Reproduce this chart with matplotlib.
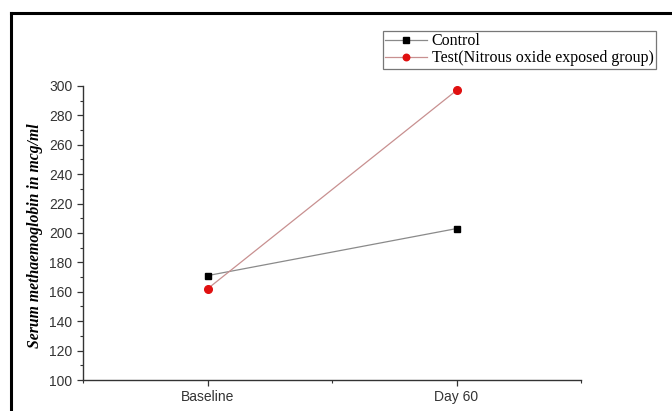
import matplotlib
matplotlib.use("Agg")
import matplotlib.pyplot as plt
from matplotlib.lines import Line2D
from matplotlib.ticker import MultipleLocator, FixedLocator

categories = ["Baseline", "Day 60"]
control = [171, 203]
test = [162, 297]
series_names = ["Control", "Test(Nitrous oxide exposed group)"]

fig = plt.figure(figsize=(6.72, 4.11), dpi=100)
ax = fig.add_axes([83/672, 1-380/411, (581-83)/672, (380-86)/411])

x = [1, 2]
ax.plot(x, control, color="#8a8a8a", lw=0.9, marker="s", ms=5,
        mfc="black", mec="black", label=series_names[0], zorder=3)
ax.plot(x, test, color="#c89090", lw=0.9, marker="o", ms=5.5,
        mfc="#e01010", mec="#e01010", label=series_names[1], zorder=3)

ax.set_xlim(0.5, 2.5)
ax.set_ylim(100, 300)
ax.set_xticks(x)
ax.set_xticklabels(categories, family="Liberation Sans", fontsize=10, color="#333333")
ax.xaxis.set_minor_locator(FixedLocator([0.5, 1.5, 2.5]))
ax.yaxis.set_major_locator(MultipleLocator(20))
ax.yaxis.set_minor_locator(MultipleLocator(10))
for lab in ax.get_yticklabels():
    lab.set_family("Liberation Sans")
    lab.set_fontsize(10)
    lab.set_color("#333333")
ax.tick_params(axis="both", which="major", direction="out", length=4.5, width=0.9, color="#333333", pad=3)
ax.tick_params(axis="both", which="minor", direction="out", length=2.5, width=0.8, color="#333333")
for s in ["top", "right"]:
    ax.spines[s].set_visible(False)
for s in ["left", "bottom"]:
    ax.spines[s].set_color("#333333")
    ax.spines[s].set_linewidth(1.0)

ax.set_ylabel("Serum methaemoglobin in mcg/ml", family="Liberation Serif",
              style="italic", weight="bold", fontsize=11.3, labelpad=4)
ax.yaxis.set_label_coords(-0.08, 0.49)

leg = fig.legend(loc="upper left", bbox_to_anchor=(383/672, 1-31/411),
                 prop={"family": "Liberation Serif", "size": 11.5},
                 frameon=True, fancybox=False, edgecolor="#555555",
                 borderpad=0.15, labelspacing=0.05, handlelength=2.6,
                 handletextpad=0.3, borderaxespad=0, markerscale=0.85)
leg.get_frame().set_linewidth(0.9)

# outer frame
fig.add_artist(Line2D([11/672, 11/672], [0, 1-13/411], transform=fig.transFigure,
                      color="black", lw=2.2))
fig.add_artist(Line2D([11/672, 1], [1-13/411, 1-13/411], transform=fig.transFigure,
                      color="black", lw=2.2))

fig.savefig("out.png", dpi=100)
